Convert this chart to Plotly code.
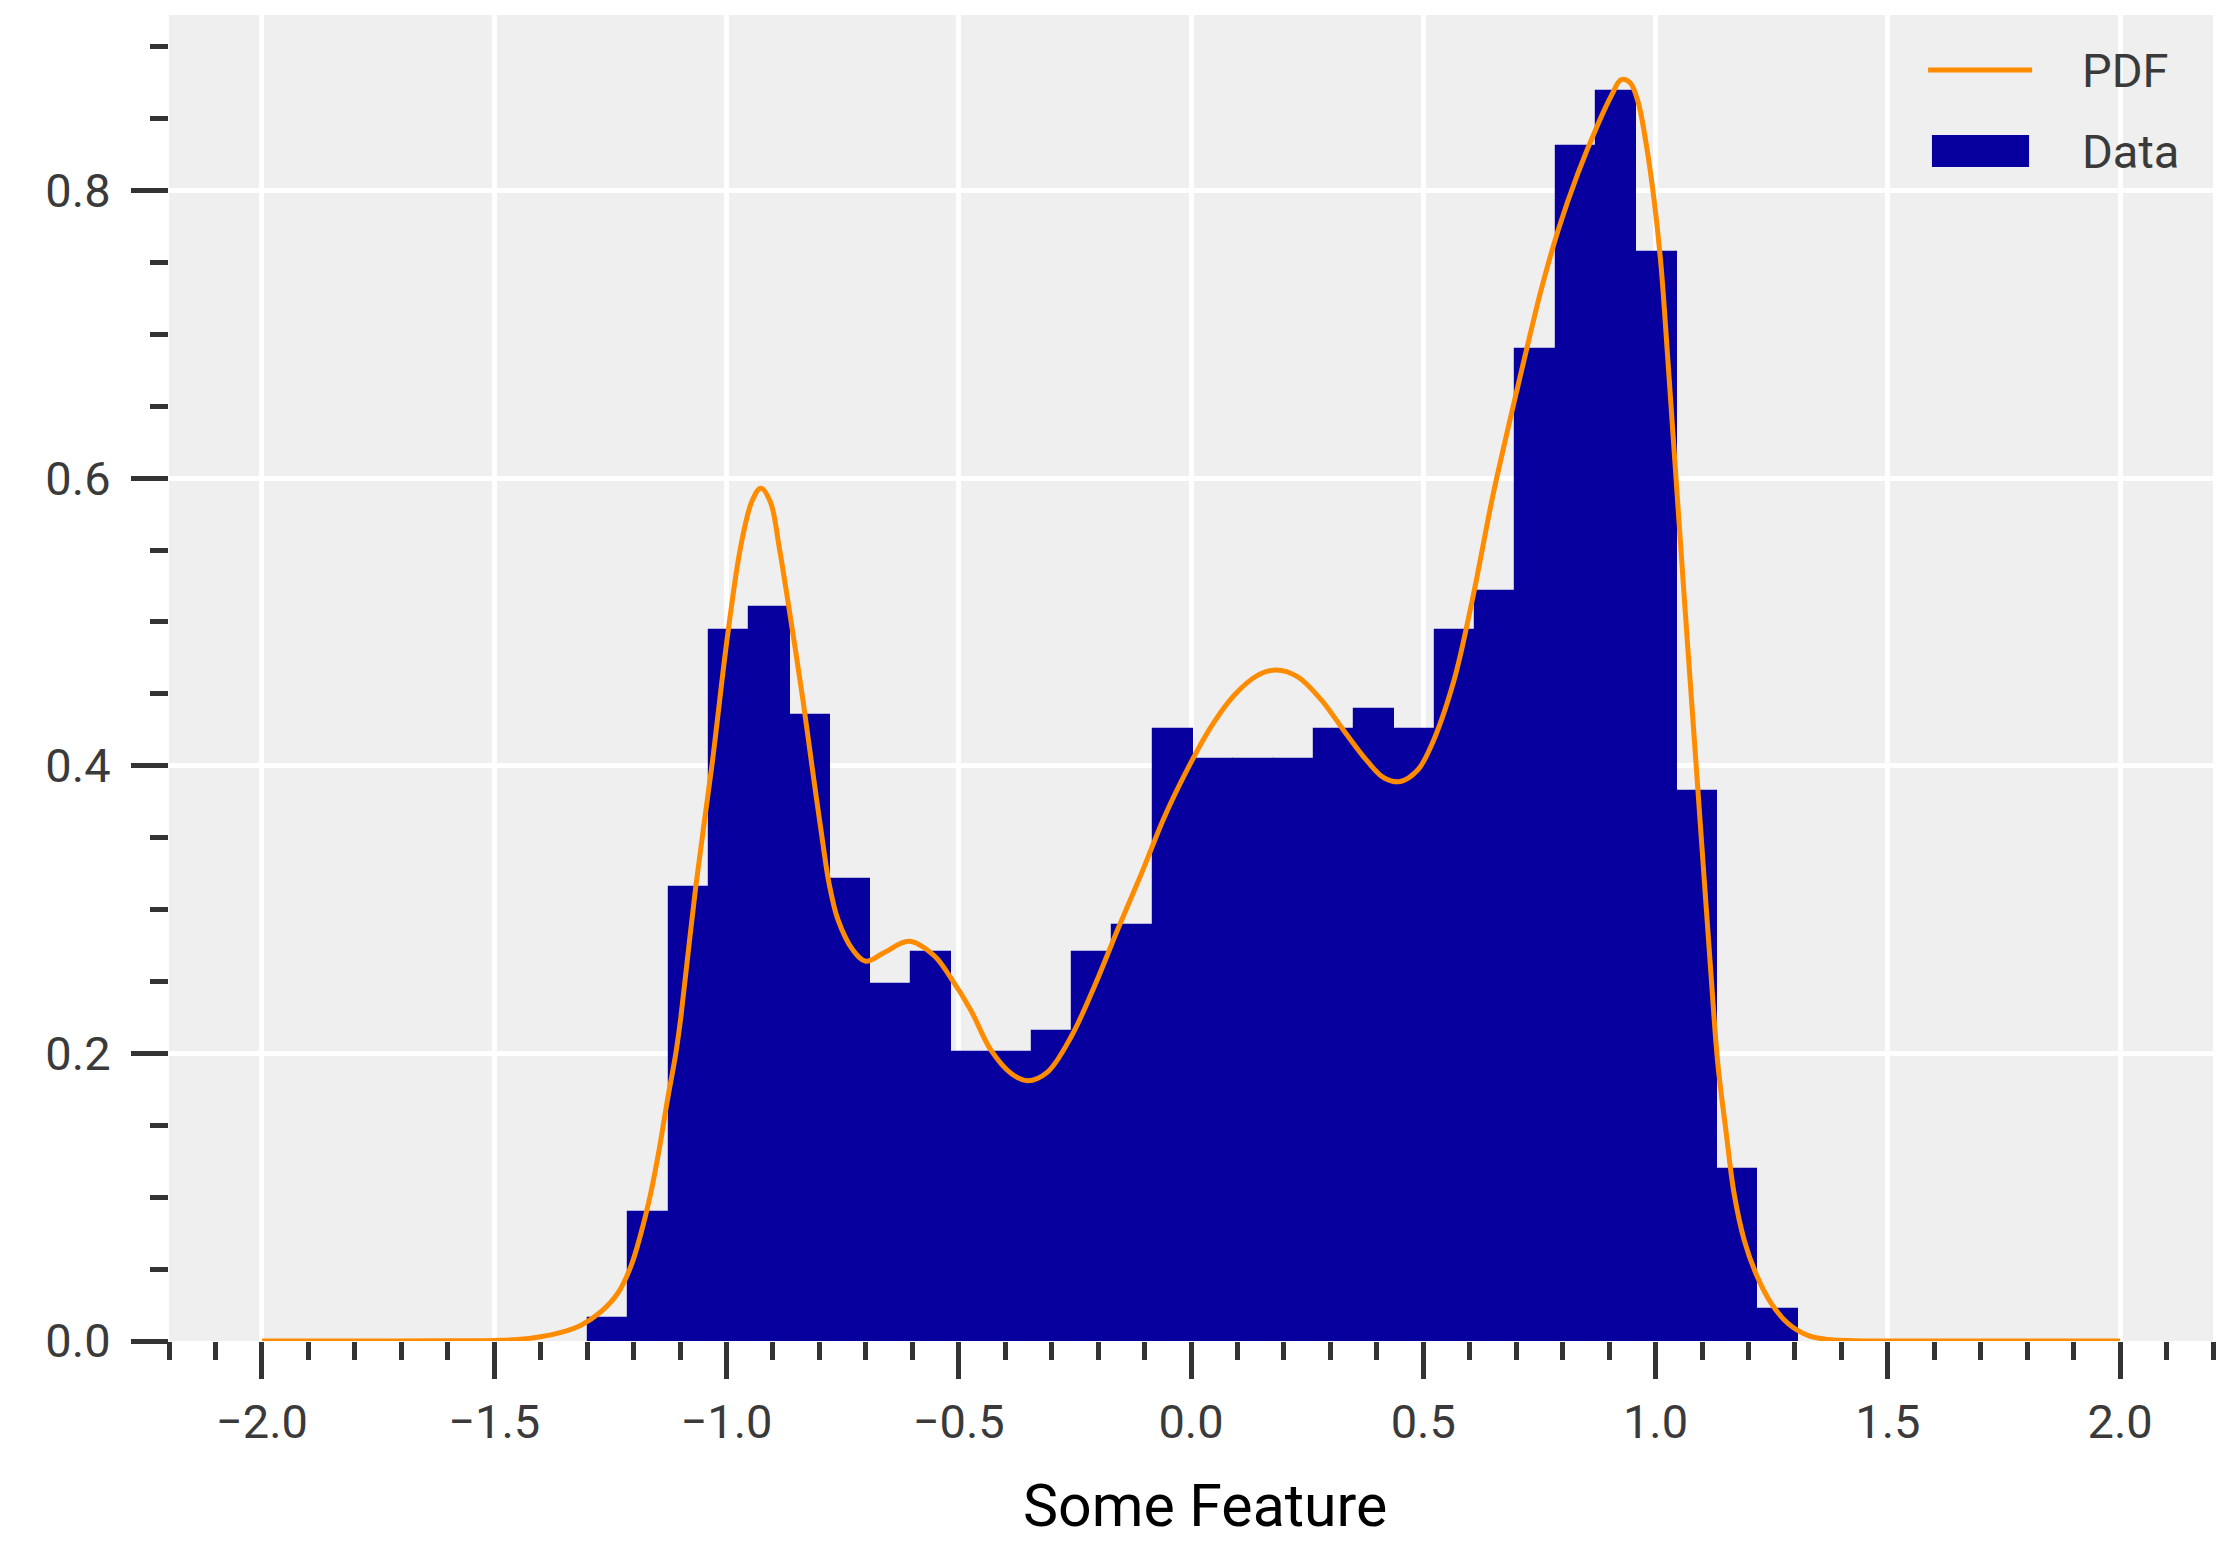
import numpy as np
import plotly.graph_objects as go

# Histogram of the feature (density-normalised), 30 equal bins
bin_edges = np.linspace(-1.298, 1.306, 31)
density = [
    0.016, 0.0897, 0.3155, 0.4944, 0.5106, 0.4355, 0.3213, 0.248, 0.2703, 0.201,
    0.201, 0.2156, 0.2705, 0.289, 0.4256, 0.4047, 0.4047, 0.4047, 0.4256, 0.4395,
    0.4256, 0.4944, 0.5215, 0.690, 0.831, 0.869, 0.757, 0.3825, 0.1196, 0.022,
]

# Estimated probability density curve
pdf_x = [
    -2.0, -1.8, -1.6, -1.5, -1.45, -1.4, -1.356, -1.313, -1.27, -1.234,
    -1.206, -1.184, -1.163, -1.145, -1.127, -1.109, -1.098, -1.066, -1.031, -0.997,
    -0.969, -0.945, -0.926, -0.905, -0.887, -0.868, -0.835, -0.816, -0.792, -0.779,
    -0.76, -0.728, -0.7, -0.661, -0.607, -0.553, -0.517, -0.474, -0.431, -0.387,
    -0.352, -0.309, -0.258, -0.208, -0.158, -0.108, -0.057, -0.007, 0.043, 0.093,
    0.144, 0.183, 0.229, 0.28, 0.33, 0.38, 0.416, 0.45, 0.488, 0.516,
    0.565, 0.606, 0.65, 0.695, 0.725, 0.753, 0.79, 0.833, 0.876, 0.905,
    0.926, 0.945, 0.962, 0.98, 0.997, 1.012, 1.027, 1.062, 1.091, 1.12,
    1.134, 1.152, 1.169, 1.191, 1.216, 1.249, 1.285, 1.328, 1.371, 1.43,
    1.5, 1.8, 2.0,
]
pdf_y = [
    0.0, 0.0, 0.0001, 0.0004, 0.001, 0.003, 0.006, 0.011, 0.0204, 0.0332,
    0.0517, 0.0749, 0.1027, 0.1328, 0.1676, 0.2, 0.2256, 0.316, 0.401, 0.492,
    0.553, 0.584, 0.593, 0.583, 0.553, 0.515, 0.445, 0.4, 0.345, 0.318,
    0.293, 0.272, 0.264, 0.27, 0.278, 0.268, 0.2525, 0.23, 0.2024, 0.186,
    0.181, 0.187, 0.2116, 0.2465, 0.286, 0.324, 0.3646, 0.398, 0.427, 0.449,
    0.463, 0.4666, 0.462, 0.446, 0.424, 0.403, 0.3915, 0.389, 0.397, 0.413,
    0.458, 0.516, 0.588, 0.652, 0.693, 0.73, 0.772, 0.812, 0.846, 0.866,
    0.877, 0.875, 0.862, 0.832, 0.793, 0.747, 0.68, 0.516, 0.384, 0.252,
    0.193, 0.145, 0.1027, 0.07, 0.047, 0.0262, 0.0123, 0.0039, 0.001, 0.0002,
    0.0, 0.0, 0.0,
]

x_range = [-2.2, 2.2]
y_range = [0.0, 0.922]

BAR_COLOR = "#07009E"
LINE_COLOR = "#FF8C00"
TICK_COLOR = "#333333"
LABEL_COLOR = "#3a3a3a"
FONT = "Roboto, 'DejaVu Sans', sans-serif"

centers = 0.5 * (bin_edges[:-1] + bin_edges[1:])
widths = np.diff(bin_edges)

fig = go.Figure()
fig.add_trace(go.Bar(
    x=centers, y=density, width=widths, name="Data",
    marker=dict(color=BAR_COLOR, line=dict(color=BAR_COLOR, width=1.2)),
))
fig.add_trace(go.Scatter(
    x=pdf_x, y=pdf_y, name="PDF", mode="lines",
    line=dict(color=LINE_COLOR, width=5, shape="spline", smoothing=1.0),
))

axis_common = dict(
    ticks="outside", ticklen=37, tickwidth=4.5, tickcolor=TICK_COLOR,
    showgrid=True, gridcolor="white", gridwidth=5,
    zeroline=False, showline=False,
    tickfont=dict(family=FONT, size=47, color=LABEL_COLOR),
    tickformat=".1f",
)

fig.update_layout(
    width=2228, height=1543,
    margin=dict(l=169, r=15, t=15, b=202),
    paper_bgcolor="white", plot_bgcolor="#efefef",
    showlegend=False, bargap=0,
    xaxis=dict(
        range=x_range, tickmode="linear", tick0=-2.0, dtick=0.5,
        minor=dict(tick0=-2.0, dtick=0.1, ticks="outside", ticklen=18,
                   tickwidth=4.5, tickcolor=TICK_COLOR, showgrid=False),
        ticklabelstandoff=3,
        **axis_common,
    ),
    yaxis=dict(
        range=y_range, tickmode="linear", tick0=0.0, dtick=0.2,
        minor=dict(tick0=0.0, dtick=0.05, ticks="outside", ticklen=18,
                   tickwidth=4.5, tickcolor=TICK_COLOR, showgrid=False),
        ticklabelstandoff=11,
        **axis_common,
    ),
)

# Legend drawn as shapes + labels in the upper-right corner
fig.add_shape(type="line", xref="paper", yref="paper",
              x0=0.8606, x1=0.9115, y0=0.9585, y1=0.9585,
              line=dict(color=LINE_COLOR, width=5))
fig.add_shape(type="rect", xref="paper", yref="paper",
              x0=0.8625, x1=0.9100, y0=0.8854, y1=0.9095,
              fillcolor=BAR_COLOR, line=dict(width=0))
for label, ypos in (("PDF", 0.9585), ("Data", 0.8967)):
    fig.add_annotation(text=label, xref="paper", yref="paper",
                       x=0.9349, y=ypos, xanchor="left", yanchor="middle",
                       showarrow=False,
                       font=dict(family=FONT, size=47, color=LABEL_COLOR))

# Axis title
fig.add_annotation(text="Some Feature", xref="paper", yref="paper",
                   x=0.5068, y=-0.124, xanchor="center", yanchor="middle",
                   showarrow=False,
                   font=dict(family=FONT, size=59, color="black"))

fig.write_html("out.html")
